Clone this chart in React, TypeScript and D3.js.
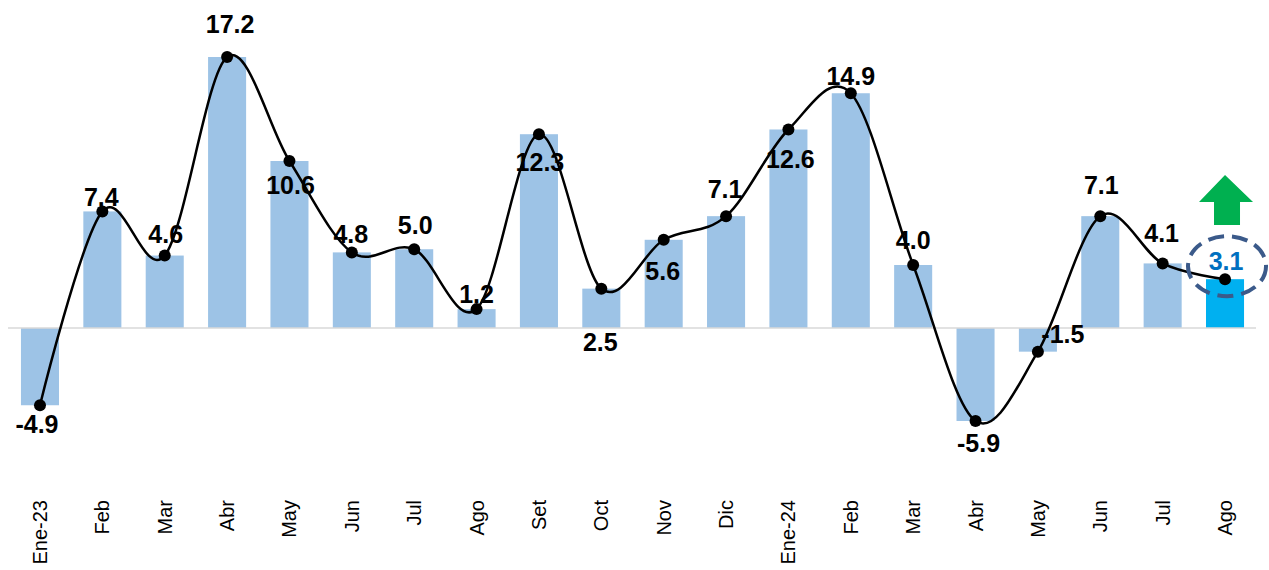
import React from "react";
import * as d3 from "d3";

const categories = ["Ene-23","Feb","Mar","Abr","May","Jun","Jul","Ago","Set","Oct","Nov","Dic","Ene-24","Feb","Mar","Abr","May","Jun","Jul","Ago"];
const values = [-4.9,7.4,4.6,17.2,10.6,4.8,5.0,1.2,12.3,2.5,5.6,7.1,12.6,14.9,4.0,-5.9,-1.5,7.1,4.1,3.1];
const valueLabels = ["-4.9","7.4","4.6","17.2","10.6","4.8","5.0","1.2","12.3","2.5","5.6","7.1","12.6","14.9","4.0","-5.9","-1.5","7.1","4.1","3.1"];
// label offsets relative to the point (dx, dy)
const labelDx = [-3,-1,1,3,1,-1,1,0,1,-1,-1,-1,2,0,0,3,25,1,-1,1];
const labelDy = [19,-14,-22,-33,24,-18,-24,-15,28,53,31,-27,30,-17,-25,22,-18,-31,-30,-18];

const W = 1269, H = 570;

export default function App() {
  const idx = categories.map((_, i) => String(i));
  const x = d3.scaleBand<string>().domain(idx).range([8.8, 1256.2]).paddingInner(0.39).paddingOuter(0.195);
  const y = d3.scaleLinear().domain([-5.9, 17.2]).range([421, 57]);
  const cx = (i: number) => (x(String(i)) as number) + x.bandwidth() / 2;
  const line = d3.line<number>().x((_, i) => cx(i)).y(d => y(d)).curve(d3.curveCardinal.tension(0));
  const last = values.length - 1;
  const lx = cx(last);
  const ly = y(values[last]);
  const arrowTop = 175, headBase = 202, shaftBottom = 225;
  return (
    <svg width={W} height={H} style={{ position: "absolute", left: 0, top: 0, fontFamily: "Liberation Sans, Arial, sans-serif" }}>
      <rect x={0} y={0} width={W} height={H} fill="#fff" />
      {values.map((v, i) => (
        <rect key={i} x={x(String(i))} y={Math.min(y(v), y(0))} width={x.bandwidth()} height={Math.abs(y(v) - y(0))}
          fill={i === last ? "#00B0F0" : "#9DC3E6"} />
      ))}
      <line x1={8} x2={1256} y1={y(0)} y2={y(0)} stroke="#D9D9D9" strokeWidth={1.5} />
      <path d={line(values) || ""} fill="none" stroke="#000" strokeWidth={2.5} />
      {values.map((v, i) => (
        <circle key={i} cx={cx(i)} cy={y(v)} r={6} fill="#000" />
      ))}
      {values.map((v, i) => (
        <text key={i} x={cx(i) + labelDx[i]} y={y(v) + labelDy[i]} textAnchor="middle" dominantBaseline="central"
          fontSize={25} fontWeight="bold" fill={i === last ? "#0070C0" : "#000"}>{valueLabels[i]}</text>
      ))}
      <ellipse cx={lx + 2} cy={ly - 13} rx={39} ry={30} fill="none" stroke="#3B5A8A" strokeWidth={4} strokeDasharray="16,8" />
      <polygon fill="#00B050" points={[
        [lx, arrowTop], [lx + 28, headBase], [lx + 15, headBase], [lx + 15, shaftBottom],
        [lx - 11, shaftBottom], [lx - 11, headBase], [lx - 26, headBase]
      ].map(p => p.join(",")).join(" ")} />
      {categories.map((c, i) => (
        <text key={i} transform={`translate(${cx(i)},500) rotate(-90)`} textAnchor="end" dominantBaseline="central"
          fontSize={20} fill="#000">{c}</text>
      ))}
    </svg>
  );
}
